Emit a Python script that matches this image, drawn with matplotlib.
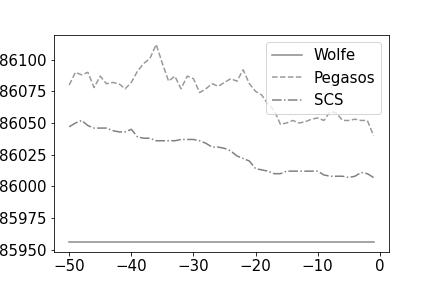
import matplotlib
matplotlib.use("Agg")
import matplotlib.pyplot as plt
import numpy as np

plt.rcParams['font.size'] = 15

# iteracje (ostatnie 50)
steps = list(range(-50, 0))

wolfe = [85956] * 50

pegasos = [86080, 86090, 86088, 86090, 86078, 86087, 86081, 86082, 86081, 86077,
           86082, 86091, 86097, 86101, 86112, 86097, 86083, 86087, 86077, 86087,
           86085, 86074, 86077, 86081, 86079, 86082, 86085, 86083, 86092, 86081,
           86075, 86072, 86065, 86060, 86049, 86050, 86052, 86050, 86051, 86053,
           86054, 86052, 86059, 86058, 86052, 86052, 86053, 86052, 86052, 86040]

scs = [86047, 86050, 86052, 86048, 86046, 86046, 86046, 86044, 86043, 86043,
       86045, 86039, 86038, 86038, 86036, 86036, 86036, 86036, 86037, 86037,
       86037, 86036, 86034, 86031, 86031, 86030, 86028, 86024, 86022, 86020,
       86014, 86013, 86012, 86010, 86010, 86012, 86012, 86012, 86012, 86012,
       86012, 86009, 86008, 86008, 86008, 86007, 86008, 86011, 86010, 86007]

fig, ax = plt.subplots(figsize=(6, 4), dpi=72)
fig.subplots_adjust(bottom=0.125)

ax.plot(steps, wolfe, color='#888888', linestyle='-', label='Wolfe')
ax.plot(steps, pegasos, color='#999999', linestyle='--', label='Pegasos')
ax.plot(steps, scs, color='#808080', linestyle='-.', label='SCS')

ax.ticklabel_format(useOffset=False, style='plain', axis='y')
ax.legend(loc='upper right')

fig.savefig('out.png', dpi=72)
